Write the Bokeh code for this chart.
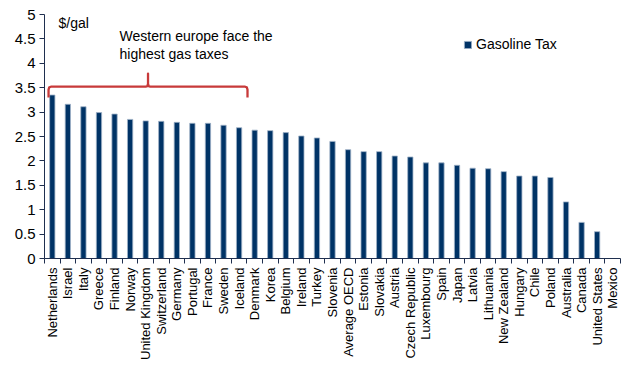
import math
from bokeh.plotting import figure
from bokeh.models import (ColumnDataSource, FixedTicker, Legend, LegendItem, Label)
from bokeh.embed import file_html
from bokeh.resources import INLINE

countries = ["Netherlands", "Israel", "Italy", "Greece", "Finland", "Norway",
             "United Kingdom", "Switzerland", "Germany", "Portugal", "France",
             "Sweden", "Iceland", "Denmark", "Korea", "Belgium", "Ireland",
             "Turkey", "Slovenia", "Average OECD", "Estonia", "Slovakia",
             "Austria", "Czech Republic", "Luxembourg", "Spain", "Japan",
             "Latvia", "Lithuania", "New Zealand", "Hungary", "Chile", "Poland",
             "Australia", "Canada", "United States", "Mexico"]
gas_tax = [3.35, 3.16, 3.11, 2.99, 2.96, 2.85, 2.82, 2.81, 2.79, 2.77, 2.77,
           2.73, 2.68, 2.63, 2.62, 2.58, 2.51, 2.47, 2.40, 2.23, 2.19, 2.19,
           2.10, 2.08, 1.96, 1.96, 1.91, 1.85, 1.84, 1.78, 1.69, 1.69, 1.66,
           1.16, 0.74, 0.55, 0.0]
y_ticks = [0, 0.5, 1, 1.5, 2, 2.5, 3, 3.5, 4, 4.5, 5]
y_tick_labels = ["0", "0.5", "1", "1.5", "2", "2.5", "3", "3.5", "4", "4.5", "5"]

# bracket spanning Netherlands..Iceland
bracket_first, bracket_last = 0, 12
bracket_level, bracket_foot, bracket_tip = 3.52, 3.30, 3.79

FONT = "Liberation Sans"
BAR = "#003366"
AXIS = "#1f2f4f"

n = len(countries)
xs = list(range(n))
src = ColumnDataSource(dict(x=xs, top=gas_tax))

p = figure(width=624, height=369, output_backend="svg", toolbar_location=None,
           x_range=(-0.5, n - 0.5), y_range=(0, 5),
           min_border_left=44, min_border_right=4, min_border_top=14,
           min_border_bottom=111)
p.outline_line_color = None
p.xgrid.visible = False
p.ygrid.visible = False
p.background_fill_color = "white"
p.border_fill_color = "white"

r = p.vbar(x="x", top="top", width=0.34, source=src, fill_color=BAR,
           line_color="#9fb3c8", line_width=0.8)

# x axis: labels at centers, ticks at category boundaries
xa = p.xaxis[0]
xa.ticker = FixedTicker(ticks=xs, minor_ticks=[i - 0.5 for i in range(n + 1)])
xa.major_label_overrides = {i: c for i, c in enumerate(countries)}
xa.major_label_orientation = math.pi / 2
xa.major_tick_out = 0
xa.major_tick_in = 0
xa.minor_tick_out = 5
xa.minor_tick_in = 0
xa.minor_tick_line_color = AXIS
xa.axis_line_color = AXIS
xa.major_label_text_font = FONT
xa.major_label_text_font_size = "13px"
xa.major_label_text_color = "black"
xa.major_label_standoff = 4

ya = p.yaxis[0]
ya.ticker = FixedTicker(ticks=y_ticks)
ya.major_label_overrides = {t: l for t, l in zip(y_ticks, y_tick_labels)}
ya.major_tick_out = 5
ya.major_tick_in = 0
ya.minor_tick_out = 0
ya.minor_tick_in = 0
ya.axis_line_color = AXIS
ya.major_tick_line_color = AXIS
ya.major_label_text_font = FONT
ya.major_label_text_font_size = "15px"
ya.major_label_text_color = "black"
ya.major_label_standoff = 4

# annotations
p.add_layout(Label(x=0.4, y=4.83, text="$/gal", text_font=FONT,
                   text_font_size="14px", text_baseline="middle", text_color="black"))
p.add_layout(Label(x=4.32, y=4.55, text="Western europe face the", text_font=FONT,
                   text_font_size="14px", text_baseline="middle", text_color="black"))
p.add_layout(Label(x=4.32, y=4.19, text="highest gas taxes", text_font=FONT,
                   text_font_size="14px", text_baseline="middle", text_color="black"))

# curly bracket
L = bracket_first - 0.24
R = bracket_last + 0.54
C = (L + R) / 2
dx = 0.15
dy = 0.06
bx = [L, L, L + dx * 0.3, L + dx, C - dx, C - dx * 0.3, C, C,
      C, C + dx * 0.3, C + dx, R - dx, R - dx * 0.3, R, R]
by = [bracket_foot, bracket_level - dy, bracket_level - dy * 0.2, bracket_level,
      bracket_level, bracket_level + dy * 0.2, bracket_level + dy, bracket_tip,
      bracket_level + dy, bracket_level + dy * 0.2, bracket_level, bracket_level,
      bracket_level - dy * 0.2, bracket_level - dy, bracket_foot]
p.line(bx, by, line_color="#c83a3a", line_width=2.3, line_join="round")

legend = Legend(items=[LegendItem(label="Gasoline Tax", renderers=[r])],
                location=(419, 206), orientation="vertical")
legend.glyph_width = 9
legend.glyph_height = 9
legend.label_height = 16
legend.label_standoff = 4
legend.padding = 0
legend.margin = 0
legend.spacing = 0
legend.border_line_color = None
legend.background_fill_alpha = 0
legend.label_text_font = FONT
legend.label_text_font_size = "14px"
legend.label_text_color = "black"
p.add_layout(legend, "center")

open("out.html", "w").write(file_html(p, INLINE))
